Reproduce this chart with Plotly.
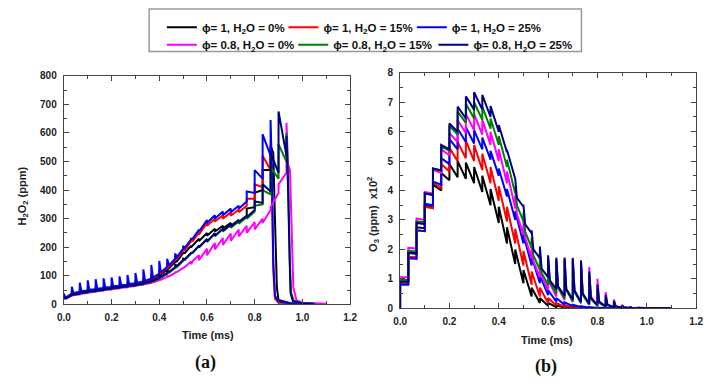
import plotly.graph_objects as go

# ---------------- data ----------------
PULSE_T = [0.0, 0.0333, 0.0667, 0.1, 0.1333, 0.1667, 0.2, 0.2333, 0.2667, 0.3,
           0.3333, 0.3667, 0.4, 0.4333, 0.4667, 0.5, 0.5333, 0.5667, 0.6, 0.6333,
           0.6667, 0.7, 0.7333, 0.7667, 0.8, 0.8333, 0.8667, 0.9, 0.9333, 0.9667, 1.0]
O3_END_T = 1.1
KNEE_DT = 0.007   # time after a pulse at which the fast decay ends (ms)

NAMES = ["ϕ= 1, H<sub>2</sub>O = 0%", "ϕ= 1, H<sub>2</sub>O = 15%", "ϕ= 1, H<sub>2</sub>O = 25%",
         "ϕ= 0.8, H<sub>2</sub>O = 0%", "ϕ= 0.8, H<sub>2</sub>O = 15%", "ϕ= 0.8, H<sub>2</sub>O = 25%"]
COLORS = ["#000000", "#ff0000", "#0000ff", "#ff00ff", "#008000", "#000080"]

# H2O2 (ppm): value just before each pulse, value just after each pulse,
# value shortly after the pulse (early pulses only), then the final drop
H2O2_PRE_BLACK = [20, 33, 39, 44, 48, 52, 56, 60, 64, 69, 75, 85, 100, 122, 148, 178, 205, 230, 250, 265, 275, 285, 295, 310, 340, 400, 470]
H2O2_JUMP_BLACK = [24, 40, 46, 51, 55, 59, 63, 67, 71, 77, 85, 95, 112, 132, 155, 180, 200, 222, 240, 255, 265, 275, 288, 335, 390, 470, 555]
H2O2_KNEE_BLACK = [21, 35, 41, 46, 50, 54, 58, 62, 66, 71, 78, 88, 104, 126, 150, 180, 206]
H2O2_TAIL_T_BLACK = [0.878, 0.885, 0.893, 0.9, 0.95, 1.0]
H2O2_TAIL_V_BLACK = [530, 300, 60, 15, 4, 2]

H2O2_PRE_RED = [20, 36, 42, 46, 50, 54, 58, 62, 66, 71, 77, 87, 104, 128, 155, 188, 220, 252, 285, 300, 312, 322, 332, 345, 370, 410, 470]
H2O2_JUMP_RED = [30, 48, 56, 60, 63, 66, 70, 74, 79, 85, 95, 108, 125, 145, 170, 195, 222, 245, 275, 290, 300, 310, 322, 370, 420, 520, 560]
H2O2_KNEE_RED = [24, 38, 44, 48, 52, 56, 60, 64, 68, 73, 80, 91, 108, 132, 160, 190, 222]
H2O2_TAIL_T_RED = [0.872, 0.878, 0.885, 0.9, 0.95, 1.0]
H2O2_TAIL_V_RED = [420, 120, 20, 6, 3, 2]

H2O2_PRE_BLUE = [20, 38, 44, 49, 53, 57, 61, 65, 69, 74, 80, 90, 108, 132, 160, 195, 228, 262, 295, 312, 325, 335, 345, 360, 390, 440, 520]
H2O2_JUMP_BLUE = [38, 62, 76, 84, 88, 91, 94, 98, 103, 110, 122, 138, 152, 160, 178, 205, 230, 255, 285, 300, 312, 322, 335, 395, 470, 595, 645]
H2O2_KNEE_BLUE = [22, 40, 46, 51, 55, 59, 63, 67, 71, 76, 83, 94, 112, 136, 165, 198, 230]
H2O2_TAIL_T_BLUE = [0.872, 0.878, 0.885, 0.9, 0.95, 1.05]
H2O2_TAIL_V_BLUE = [480, 150, 30, 10, 4, 2]

H2O2_PRE_MAGENTA = [18, 30, 35, 40, 44, 48, 52, 56, 60, 64, 69, 75, 84, 96, 110, 128, 150, 172, 195, 215, 232, 248, 262, 275, 288, 300, 330, 390, 460]
H2O2_JUMP_MAGENTA = [22, 36, 41, 46, 50, 54, 58, 62, 66, 70, 75, 80, 88, 100, 112, 125, 140, 155, 172, 192, 208, 222, 238, 250, 262, 285, 340, 420, 635]
H2O2_KNEE_MAGENTA = [19, 32, 37, 42, 46, 50, 54, 58, 62, 66, 71, 77, 86, 98, 113, 131, 152]
H2O2_TAIL_T_MAGENTA = [0.94, 0.948, 0.955, 0.962, 0.975, 1.0, 1.1]
H2O2_TAIL_V_MAGENTA = [490, 470, 250, 60, 15, 6, 2]

H2O2_PRE_GREEN = [20, 32, 37, 42, 46, 50, 54, 58, 62, 66, 71, 78, 90, 107, 127, 152, 178, 205, 230, 250, 265, 278, 290, 305, 325, 350, 385, 440, 500]
H2O2_JUMP_GREEN = [24, 38, 44, 49, 53, 57, 61, 65, 69, 74, 80, 90, 102, 117, 137, 157, 180, 200, 218, 238, 255, 268, 282, 300, 345, 400, 480, 560, 600]
H2O2_KNEE_GREEN = [21, 34, 39, 44, 48, 52, 56, 60, 64, 68, 73, 81, 93, 110, 130, 155, 180]
H2O2_TAIL_T_GREEN = [0.94, 0.947, 0.953, 0.965, 1.0, 1.05]
H2O2_TAIL_V_GREEN = [450, 150, 40, 10, 4, 2]

H2O2_PRE_NAVY = [20, 33, 38, 43, 47, 51, 55, 59, 63, 67, 72, 80, 92, 110, 130, 155, 180, 205, 228, 248, 265, 280, 295, 310, 330, 355, 395, 460, 520]
H2O2_JUMP_NAVY = [24, 40, 45, 50, 54, 58, 62, 66, 70, 75, 82, 92, 105, 120, 140, 160, 180, 200, 220, 240, 258, 272, 288, 305, 360, 420, 530, 675, 590]
H2O2_KNEE_NAVY = [21, 35, 40, 45, 49, 53, 57, 61, 65, 69, 75, 83, 96, 114, 134, 158, 182]
H2O2_TAIL_T_NAVY = [0.94, 0.945, 0.95, 0.96, 1.0, 1.05]
H2O2_TAIL_V_NAVY = [400, 150, 40, 12, 4, 2]

# O3 (x100 ppm): peak right after each pulse, trough just before the next pulse,
# and (late pulses) value shortly after the pulse
O3_PEAK_BLACK = [0.95, 1.90, 2.75, 3.50, 4.20, 4.60, 4.90, 5.00, 4.95, 4.80, 4.50, 4.05, 3.45, 2.75, 2.00, 1.30, 0.70, 0.35, 0.18, 0.10, 0.06, 0.03, 0.02, 0.01, 0, 0, 0, 0, 0, 0, 0]
O3_TROUGH_BLACK = [0.95, 1.88, 2.72, 3.45, 4.00, 4.35, 4.45, 4.40, 4.25, 3.95, 3.50, 2.90, 2.20, 1.50, 0.85, 0.40, 0.18, 0.08, 0.04, 0.02, 0.01, 0, 0, 0, 0, 0, 0, 0, 0, 0, 0]
O3_KNEE_BLACK = []
O3_PEAK_RED = [0.85, 1.75, 2.65, 3.45, 4.25, 4.90, 5.45, 5.65, 5.70, 5.55, 5.25, 4.80, 4.15, 3.45, 2.70, 1.95, 1.25, 0.70, 0.35, 0.18, 0.10, 0.06, 0.03, 0.02, 0.01, 0, 0, 0, 0, 0, 0]
O3_TROUGH_RED = [0.85, 1.73, 2.62, 3.40, 4.10, 4.65, 5.00, 5.10, 5.00, 4.70, 4.25, 3.65, 2.95, 2.20, 1.45, 0.80, 0.40, 0.18, 0.09, 0.05, 0.03, 0.02, 0.01, 0, 0, 0, 0, 0, 0, 0, 0]
O3_KNEE_RED = []
O3_PEAK_BLUE = [0.80, 1.70, 2.65, 3.55, 4.30, 5.10, 5.75, 6.10, 6.15, 6.05, 5.80, 5.35, 4.75, 4.05, 3.30, 2.50, 1.75, 1.10, 0.62, 0.35, 0.20, 0.12, 0.07, 0.04, 0.02, 0.01, 0, 0, 0, 0, 0]
O3_TROUGH_BLUE = [0.80, 1.68, 2.62, 3.50, 4.20, 4.90, 5.40, 5.65, 5.60, 5.40, 5.05, 4.50, 3.80, 3.00, 2.20, 1.45, 0.85, 0.45, 0.22, 0.12, 0.07, 0.04, 0.02, 0.01, 0, 0, 0, 0, 0, 0, 0]
O3_KNEE_BLUE = []
O3_PEAK_MAGENTA = [1.05, 2.05, 3.05, 3.95, 4.70, 5.40, 5.95, 6.40, 6.60, 6.60, 6.40, 6.00, 5.40, 4.65, 3.85, 3.00, 2.25, 1.80, 1.65, 1.65, 1.70, 1.72, 1.62, 1.40, 1.00, 0.55, 0.30, 0.12, 0.05, 0.02, 0.01]
O3_TROUGH_MAGENTA = [1.05, 2.03, 3.00, 3.90, 4.60, 5.20, 5.65, 5.95, 6.05, 5.90, 5.55, 5.00, 4.25, 3.40, 2.50, 1.70, 1.05, 0.62, 0.40, 0.28, 0.22, 0.17, 0.12, 0.08, 0.05, 0.03, 0.02, 0.01, 0, 0, 0]
O3_KNEE_MAGENTA = [None] * 14 + [3.2, 2.4, 1.6, 1.1, 0.85, 0.7, 0.65, 0.6, 0.5, 0.4, 0.25, 0.13, 0.07, 0.03, 0.01]
O3_PEAK_GREEN = [0.95, 1.95, 2.95, 3.90, 4.75, 5.50, 6.20, 6.68, 6.95, 7.00, 6.85, 6.45, 5.85, 5.05, 4.15, 3.25, 2.40, 1.90, 1.70, 1.65, 1.65, 1.62, 1.50, 1.15, 0.65, 0.35, 0.18, 0.07, 0.03, 0.01, 0]
O3_TROUGH_GREEN = [0.95, 1.93, 2.92, 3.86, 4.68, 5.35, 5.90, 6.30, 6.45, 6.40, 6.10, 5.55, 4.80, 3.90, 2.95, 2.05, 1.30, 0.80, 0.50, 0.33, 0.24, 0.18, 0.12, 0.08, 0.05, 0.03, 0.02, 0.01, 0, 0, 0]
O3_KNEE_GREEN = [None] * 14 + [3.5, 2.6, 1.8, 1.2, 0.9, 0.72, 0.62, 0.55, 0.45, 0.32, 0.18, 0.1, 0.05, 0.02, 0.01]
O3_PEAK_NAVY = [0.90, 1.88, 2.90, 3.90, 4.75, 5.55, 6.28, 6.85, 7.20, 7.34, 7.25, 6.87, 6.23, 5.38, 4.40, 3.52, 2.65, 2.10, 1.80, 1.72, 1.72, 1.70, 1.62, 1.25, 0.80, 0.45, 0.25, 0.10, 0.05, 0.02, 0.01]
O3_TROUGH_NAVY = [0.90, 1.85, 2.86, 3.85, 4.68, 5.40, 6.00, 6.45, 6.75, 6.75, 6.50, 6.00, 5.30, 4.40, 3.45, 2.55, 1.70, 1.05, 0.65, 0.42, 0.30, 0.22, 0.15, 0.10, 0.06, 0.04, 0.02, 0.01, 0, 0, 0]
O3_KNEE_NAVY = [None] * 14 + [3.75, 2.85, 2.0, 1.35, 0.95, 0.75, 0.65, 0.6, 0.5, 0.35, 0.22, 0.12, 0.07, 0.03, 0.01]

H2O2_SERIES = [
    (H2O2_PRE_BLACK, H2O2_JUMP_BLACK, H2O2_KNEE_BLACK, H2O2_TAIL_T_BLACK, H2O2_TAIL_V_BLACK),
    (H2O2_PRE_RED, H2O2_JUMP_RED, H2O2_KNEE_RED, H2O2_TAIL_T_RED, H2O2_TAIL_V_RED),
    (H2O2_PRE_BLUE, H2O2_JUMP_BLUE, H2O2_KNEE_BLUE, H2O2_TAIL_T_BLUE, H2O2_TAIL_V_BLUE),
    (H2O2_PRE_MAGENTA, H2O2_JUMP_MAGENTA, H2O2_KNEE_MAGENTA, H2O2_TAIL_T_MAGENTA, H2O2_TAIL_V_MAGENTA),
    (H2O2_PRE_GREEN, H2O2_JUMP_GREEN, H2O2_KNEE_GREEN, H2O2_TAIL_T_GREEN, H2O2_TAIL_V_GREEN),
    (H2O2_PRE_NAVY, H2O2_JUMP_NAVY, H2O2_KNEE_NAVY, H2O2_TAIL_T_NAVY, H2O2_TAIL_V_NAVY),
]
O3_SERIES = [
    (O3_PEAK_BLACK, O3_TROUGH_BLACK, O3_KNEE_BLACK), (O3_PEAK_RED, O3_TROUGH_RED, O3_KNEE_RED),
    (O3_PEAK_BLUE, O3_TROUGH_BLUE, O3_KNEE_BLUE), (O3_PEAK_MAGENTA, O3_TROUGH_MAGENTA, O3_KNEE_MAGENTA),
    (O3_PEAK_GREEN, O3_TROUGH_GREEN, O3_KNEE_GREEN), (O3_PEAK_NAVY, O3_TROUGH_NAVY, O3_KNEE_NAVY),
]


def knee_at(knees, k):
    return knees[k] if k < len(knees) else None


def h2o2_xy(pre, jump, knees, tail_t, tail_v):
    xs, ys = [], []
    for k, (t, a, b) in enumerate(zip(PULSE_T, pre, jump)):
        xs += [t, t]
        ys += [a, b]
        kn = knee_at(knees, k)
        if kn is not None:
            xs.append(t + KNEE_DT)
            ys.append(kn)
    return xs + list(tail_t), ys + list(tail_v)


def o3_xy(peaks, troughs, knees):
    xs, ys = [PULSE_T[0]], [0.0]
    n = len(peaks)
    for k in range(n):
        nxt = PULSE_T[k + 1] if k + 1 < n else O3_END_T
        xs.append(PULSE_T[k])
        ys.append(peaks[k])
        kn = knee_at(knees, k)
        if kn is not None:
            xs.append(PULSE_T[k] + KNEE_DT)
            ys.append(kn)
        xs.append(nxt)
        ys.append(troughs[k])
    return xs, ys


W, H = 709, 384
LEG_IDS = ["legend", "legend2", "legend3", "legend4", "legend5", "legend6"]
fig = go.Figure()
for i, (pre, jump, kn, tt, tv) in enumerate(H2O2_SERIES):
    x, y = h2o2_xy(pre, jump, kn, tt, tv)
    fig.add_trace(go.Scatter(x=x, y=y, mode="lines", name=NAMES[i],
                             line=dict(color=COLORS[i], width=2),
                             xaxis="x", yaxis="y", legend=LEG_IDS[i]))
for i, (pk, tr, kn) in enumerate(O3_SERIES):
    x, y = o3_xy(pk, tr, kn)
    fig.add_trace(go.Scatter(x=x, y=y, mode="lines", name=NAMES[i], showlegend=False,
                             line=dict(color=COLORS[i], width=2),
                             xaxis="x2", yaxis="y2"))

AX = "#444444"
TF = dict(family="Liberation Sans, Arial", size=10, color="#222222", weight="bold")


def axis(rng, dtick, minor_dtick, domain, anchor, fmt=None):
    d = dict(range=rng, dtick=dtick, domain=domain, anchor=anchor,
             showline=True, linecolor=AX, linewidth=1.2, mirror="ticks",
             ticks="inside", ticklen=5, tickwidth=1, tickcolor=AX,
             minor=dict(ticks="inside", ticklen=3, dtick=minor_dtick, tickcolor=AX, tickwidth=1),
             showgrid=False, zeroline=False, tickfont=TF, ticklabelstandoff=4)
    if fmt:
        d["tickformat"] = fmt
    return d


def px(v):
    return v / W


def py(v):
    return 1 - v / H


LEG_FONT = dict(family="Liberation Sans, Arial", size=11.5, color="#111", weight="bold")
# left edge of each legend sample line (px) and legend row top (px)
LEG_POS = [(163, 7), (287, 7), (418, 7), (163, 25), (297, 25), (440, 25)]
legends = {}
for lid, (lx, ly) in zip(LEG_IDS, LEG_POS):
    legends[lid] = dict(orientation="h", x=px(lx - 5), y=py(ly), xanchor="left", yanchor="top",
                        font=LEG_FONT, itemwidth=30, bgcolor="rgba(0,0,0,0)", borderwidth=0)

fig.update_layout(
    width=W, height=H, margin=dict(l=0, r=0, t=0, b=0),
    paper_bgcolor="white", plot_bgcolor="white",
    xaxis=axis([0, 1.2], 0.2, 0.1, [px(58), px(350)], "y", ".1f"),
    yaxis=axis([0, 800], 100, 50, [py(308), py(72)], "x"),
    xaxis2=axis([0, 1.2], 0.2, 0.1, [px(401), px(703)], "y2", ".1f"),
    yaxis2=axis([0, 8], 1, 0.5, [py(312), py(69)], "x2"),
    shapes=[dict(type="rect", xref="paper", yref="paper", x0=px(145), x1=px(586),
                 y0=py(47), y1=py(3), line=dict(color="#999999", width=1.5))],
    showlegend=True,
    **legends,
)


def note(text, x, y, font, angle=0):
    fig.add_annotation(text=text, x=px(x), y=py(y), xref="paper", yref="paper",
                       xanchor="center", yanchor="middle", showarrow=False,
                       textangle=angle, font=font)


ann_font = dict(family="Liberation Sans, Arial", size=11, color="#222", weight="bold")
note("Time (ms)", 205, 340, ann_font)
note("Time (ms)", 551, 345, ann_font)
note("H<sub>2</sub>O<sub>2</sub> (ppm)", 16, 196, ann_font, -90)
note("O<sub>3</sub> (ppm)  x10<sup>2</sup>", 374, 215, ann_font, -90)
lab_font = dict(family="Liberation Serif, Times New Roman", size=18, color="#111", weight="bold")
note("(a)", 203, 368, lab_font)
note("(b)", 550, 372, lab_font)

fig.write_html("out.html")
